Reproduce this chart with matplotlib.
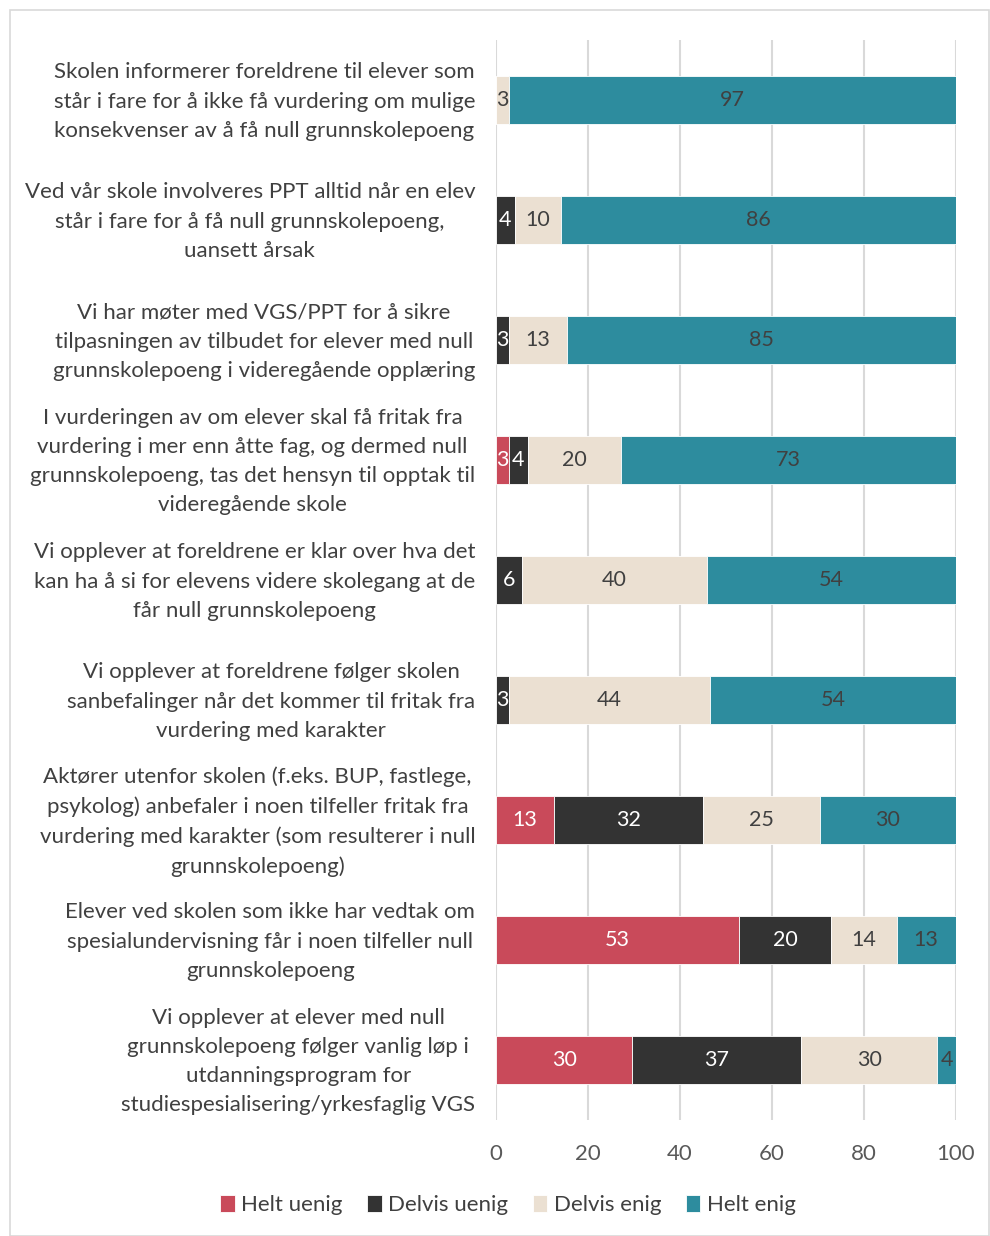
import matplotlib
matplotlib.use("Agg")
import matplotlib.pyplot as plt
import matplotlib.transforms as mtransforms
from matplotlib.patches import Rectangle
import numpy as np

plt.rcParams['font.family'] = ['Lato', 'DejaVu Sans']

categories = [
    "Skolen informerer foreldrene til elever som\nstår i fare for å ikke få vurdering om mulige\nkonsekvenser av å få null grunnskolepoeng",
    "Ved vår skole involveres PPT alltid når en elev\nstår i fare for å få null grunnskolepoeng,\nuansett årsak",
    "Vi har møter med VGS/PPT for å sikre\ntilpasningen av tilbudet for elever med null\ngrunnskolepoeng i videregående opplæring",
    "I vurderingen av om elever skal få fritak fra\nvurdering i mer enn åtte fag, og dermed null\ngrunnskolepoeng, tas det hensyn til opptak til\nvideregående skole",
    "Vi opplever at foreldrene er klar over hva det\nkan ha å si for elevens videre skolegang at de\nfår null grunnskolepoeng",
    "Vi opplever at foreldrene følger skolen\nsanbefalinger når det kommer til fritak fra\nvurdering med karakter",
    "Aktører utenfor skolen (f.eks. BUP, fastlege,\npsykolog) anbefaler i noen tilfeller fritak fra\nvurdering med karakter (som resulterer i null\ngrunnskolepoeng)",
    "Elever ved skolen som ikke har vedtak om\nspesialundervisning får i noen tilfeller null\ngrunnskolepoeng",
    "Vi opplever at elever med null\ngrunnskolepoeng følger vanlig løp i\nutdanningsprogram for\nstudiespesialisering/yrkesfaglig VGS",
]

series_names = ["Helt uenig", "Delvis uenig", "Delvis enig", "Helt enig"]
helt_uenig   = [0.0, 0.0, 0.0, 2.8, 0.0, 0.0, 12.6, 52.8, 29.6]
delvis_uenig = [0.0, 4.1, 2.8, 4.1, 5.7, 2.8, 32.4, 20.0, 36.7]
delvis_enig  = [2.8, 10.0, 12.6, 20.2, 40.2, 43.7, 25.4, 14.3, 29.6]
helt_enig    = [97.2, 85.9, 84.6, 72.8, 54.1, 53.6, 29.6, 12.8, 4.1]

colors = ["#C94A5A", "#333333", "#EBE0D2", "#2D8C9E"]
label_colors = ["white", "white", "#404040", "#404040"]

fig = plt.figure(figsize=(9.9, 12.36), dpi=100)
W, H = 990, 1236
ax = fig.add_axes([496 / W, 1 - 1120 / H, (956 - 496) / W, (1120 - 40) / H])

y = np.arange(len(categories))
left = np.zeros(len(categories))
for vals, name, c, lc in zip([helt_uenig, delvis_uenig, delvis_enig, helt_enig],
                             series_names, colors, label_colors):
    vals = np.array(vals)
    bars = ax.barh(y, vals, left=left, height=0.4, color=c, label=name,
                   edgecolor='white', linewidth=0.6, zorder=3)
    labels = [f"{v:.0f}" if v > 0 else "" for v in vals]
    ax.bar_label(bars, labels=labels, label_type='center', color=lc, fontsize=15.5)
    left += vals

ax.set_ylim(len(categories) - 0.5, -0.5)
ax.set_xlim(0, 100)
ax.set_xticks(np.arange(0, 101, 20))
ax.set_yticks(y)
ax.set_yticklabels(categories, fontsize=16, color='#404040', multialignment='center',
                   linespacing=1.57)
ax.tick_params(axis='y', length=0, pad=15)
ax.tick_params(axis='x', length=0, pad=17, labelsize=16, labelcolor='#595959')
ax.grid(axis='x', color='#D9D9D9', linewidth=1.5, zorder=0)
ax.set_axisbelow(True)
for s in ax.spines.values():
    s.set_visible(False)

offset = mtransforms.ScaledTranslation(0, 5 / 100, fig.dpi_scale_trans)
for lab in ax.get_yticklabels():
    lab.set_transform(lab.get_transform() + offset)

fig.legend(loc='center', bbox_to_anchor=(508 / W, 1 - 1205 / H), ncol=4, frameon=False,
           fontsize=16, handlelength=0.65, handleheight=0.85, handletextpad=0.3,
           columnspacing=1.1, labelcolor='#404040')

fig.patches.append(Rectangle((10 / W, 0), (W - 11) / W, 1 - 10 / H, transform=fig.transFigure,
                             fill=False, edgecolor='#D9D9D9', linewidth=1.2))

fig.savefig("out.png", dpi=100)
